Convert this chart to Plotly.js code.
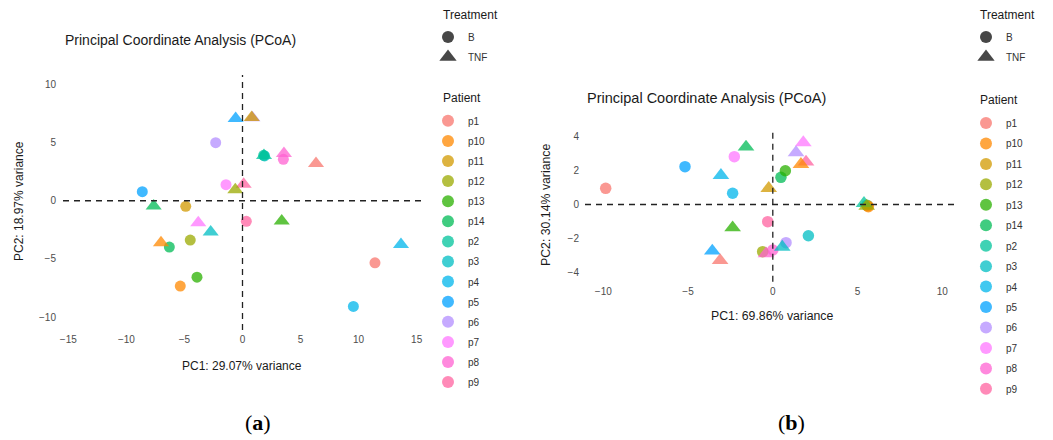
<!DOCTYPE html>
<html>
<head>
<meta charset="utf-8">
<script src="https://cdn.plot.ly/plotly-3.0.1.min.js"></script>
<style>
  html, body { margin: 0; padding: 0; background: #ffffff; }
  #chart { width: 1053px; height: 440px; }
</style>
</head>
<body>
<div id="chart"></div>
<script>
// ---------------- data ----------------
const patients = ['p1','p10','p11','p12','p13','p14','p2','p3','p4','p5','p6','p7','p8','p9'];
const treatments = ['B', 'TNF'];

// Panel (a): PC1 29.07 %, PC2 18.97 %
const a_B_pc1   = [11.41, -5.36, -4.89, -4.50, -3.92, -6.30, 1.82, 1.90, 9.55, -8.63, -2.31, -1.42, 3.52, 0.33];
const a_B_pc2   = [-5.33, -7.33, -0.48, -3.38, -6.56, -3.98, 3.90, 3.85, -9.08, 0.78, 4.99, 1.38, 3.56, -1.77];
const a_TNF_pc1 = [6.33, -7.02, 0.79, -0.62, 3.38, -7.65, 1.85, -2.74, 13.65, -0.59, 0.85, -3.81, 3.57, 0.10];
const a_TNF_pc2 = [3.20, -3.60, 7.15, 0.95, -1.74, -0.45, 3.88, -2.69, -3.75, 7.06, 7.13, -1.88, 4.05, 1.42];

// Panel (b): PC1 69.86 %, PC2 30.14 %
const b_B_pc1   = [-9.86, 5.64, 5.60, -0.60, 0.74, 0.48, 5.55, 2.10, -2.37, -5.18, 0.78, -2.27, 0.00, -0.30];
const b_B_pc2   = [0.95, -0.13, -0.08, -2.78, 1.99, 1.60, -0.05, -1.84, 0.66, 2.23, -2.25, 2.82, -2.68, -1.01];
const b_TNF_pc1 = [-3.11, 1.66, -0.24, 5.54, -2.37, -1.58, 5.38, 0.56, -3.06, -3.57, 1.37, 1.80, -0.40, 1.96];
const b_TNF_pc2 = [-3.30, 2.37, 0.95, -0.09, -1.37, 3.39, 0.07, -2.51, 1.72, -2.74, 3.06, 3.65, -2.90, 2.51];

const xTicksA = [-15, -10, -5, 0, 5, 10, 15];
const yTicksA = [-10, -5, 0, 5, 10];
const xTicksB = [-10, -5, 0, 5, 10];
const yTicksB = [-4, -2, 0, 2, 4];

const titleText = 'Principal Coordinate Analysis (PCoA)';
const xTitleA = 'PC1: 29.07% variance';
const yTitleA = 'PC2: 18.97% variance';
const xTitleB = 'PC1: 69.86% variance';
const yTitleB = 'PC2: 30.14% variance';
const treatTitle = 'Treatment';
const patTitle = 'Patient';

// ---------------- styles ----------------
const palette = ['#F8766D','#FF8800','#D29A00','#9BAA00','#2AB000','#00BB56','#00C39B',
                 '#00BEC3','#00B6EB','#00A2FF','#B38EFF','#FF77FF','#FF61D2','#FF63A0'];
const ALPHA = 0.75;
const FONT = 'Liberation Sans, Arial, sans-serif';
const W = 1053, H = 440;
const px = v => v / W;
const py = v => 1 - v / H;

const traces = [];
const rev = arr => arr.slice().reverse();   // drawing order (last patient drawn first)

function addPanel(xa, ya, Bx, By, Tx, Ty, cSize, tSize) {
  traces.push({
    type: 'scatter', mode: 'markers', xaxis: xa, yaxis: ya,
    x: rev(Bx), y: rev(By), text: rev(patients), name: 'B', showlegend: false,
    marker: { symbol: 'circle', size: cSize, color: rev(palette), opacity: ALPHA, line: { width: 0 } },
    hoverinfo: 'text+x+y'
  });
  traces.push({
    type: 'scatter', mode: 'markers', xaxis: xa, yaxis: ya,
    x: rev(Tx), y: rev(Ty), text: rev(patients), name: 'TNF', showlegend: false,
    marker: { symbol: 'triangle-up', size: tSize, color: rev(palette), opacity: ALPHA, line: { width: 0 } },
    hoverinfo: 'text+x+y'
  });
}
addPanel('x', 'y', a_B_pc1, a_B_pc2, a_TNF_pc1, a_TNF_pc2, 11, 14);
addPanel('x2', 'y2', b_B_pc1, b_B_pc2, b_TNF_pc1, b_TNF_pc2, 11.5, 14.5);

// legend-only traces
function addLegends(treatLegend, patLegend) {
  const symbols = ['circle', 'triangle-up'];
  const sizes = [12, 15];
  treatments.forEach((t, i) => {
    traces.push({
      type: 'scatter', mode: 'markers', x: [null], y: [null],
      name: t, legend: treatLegend, legendgroup: treatLegend + t,
      marker: { symbol: symbols[i], size: sizes[i], color: '#474747' },
      hoverinfo: 'skip'
    });
  });
  patients.forEach((p, i) => {
    traces.push({
      type: 'scatter', mode: 'markers', x: [null], y: [null],
      name: p, legend: patLegend, legendgroup: patLegend + p,
      marker: { symbol: 'circle', size: 12, color: palette[i], opacity: ALPHA },
      hoverinfo: 'skip'
    });
  });
}
addLegends('legend', 'legend2');
addLegends('legend3', 'legend4');

function legendCfg(xLeft, yTop, gap) {
  return {
    x: px(xLeft), y: py(yTop), xanchor: 'left', yanchor: 'top',
    bgcolor: 'rgba(0,0,0,0)', borderwidth: 0,
    font: { family: FONT, size: 10, color: '#333333' },
    itemsizing: 'trace', tracegroupgap: gap, itemwidth: 30,
    traceorder: 'grouped'
  };
}

const axisCommon = {
  showgrid: false, zeroline: false, showline: false,
  ticks: 'outside', tickcolor: 'rgba(0,0,0,0)',
  tickfont: { family: FONT, size: 10, color: '#4D4D4D' },
  fixedrange: true, tickmode: 'array'
};

const dash = { color: '#222222', width: 1.3, dash: '6px,5px' };

function ann(text, x, y, xanchor, size, extra) {
  return Object.assign({ text: text, xref: 'paper', yref: 'paper', x: px(x), y: py(y), xanchor: xanchor,
    yanchor: 'middle', showarrow: false, font: { family: FONT, size: size, color: '#1a1a1a' } }, extra || {});
}

const layout = {
  width: W, height: H,
  margin: { l: 0, r: 0, t: 0, b: 0 },
  paper_bgcolor: '#ffffff', plot_bgcolor: '#ffffff',
  showlegend: true,
  xaxis: Object.assign({}, axisCommon, { domain: [px(63), px(422)], range: [-15.46, 15.46], tickvals: xTicksA, ticklen: 0, anchor: 'y' }),
  yaxis: Object.assign({}, axisCommon, { domain: [py(330), py(75)], range: [-11.1, 10.8], tickvals: yTicksA, ticklen: 4, anchor: 'x' }),
  xaxis2: Object.assign({}, axisCommon, { domain: [px(585), px(956.7)], range: [-11.08, 10.85], tickvals: xTicksB, ticklen: 0, anchor: 'y2' }),
  yaxis2: Object.assign({}, axisCommon, { domain: [py(281.7), py(131.7)], range: [-4.55, 4.29], tickvals: yTicksB, ticklen: 3, anchor: 'x2' }),
  shapes: [
    { type: 'line', xref: 'x', yref: 'y domain', x0: 0, x1: 0, y0: 0, y1: 1, line: dash },
    { type: 'line', xref: 'x domain', yref: 'y', x0: 0, x1: 1, y0: 0, y1: 0, line: dash },
    { type: 'line', xref: 'x2', yref: 'y2 domain', x0: 0, x1: 0, y0: 0, y1: 1, line: dash },
    { type: 'line', xref: 'x2 domain', yref: 'y2', x0: 0, x1: 1, y0: 0, y1: 0, line: dash }
  ],
  legend: legendCfg(428, 22.5, 1),
  legend2: legendCfg(428, 106.3, 1.1),
  legend3: legendCfg(966, 22.5, 1),
  legend4: legendCfg(966, 108.5, 1.45),
  annotations: [
    ann(titleText, 63, 40, 'left', 14),
    ann(titleText, 585, 98, 'left', 14.5),
    ann(xTitleA, 242, 366, 'center', 12),
    ann(yTitleA, 19, 201, 'center', 12, { textangle: -90 }),
    ann(xTitleB, 772, 316, 'center', 12.3),
    ann(yTitleB, 546, 205, 'center', 12.3, { textangle: -90 }),
    ann(treatTitle, 441, 15, 'left', 12),
    ann(patTitle, 441, 98.3, 'left', 12),
    ann(treatTitle, 978, 15, 'left', 12),
    ann(patTitle, 978, 100, 'left', 12),
    ann('(<b>a</b>)', 258, 422, 'center', 22, { font: { family: 'Liberation Serif, DejaVu Serif, serif', size: 22, color: '#000000' } }),
    ann('(<b>b</b>)', 791, 422, 'center', 22, { font: { family: 'Liberation Serif, DejaVu Serif, serif', size: 22, color: '#000000' } })
  ]
};

Plotly.newPlot('chart', traces, layout, { displayModeBar: false, staticPlot: true });
</script>
</body>
</html>
